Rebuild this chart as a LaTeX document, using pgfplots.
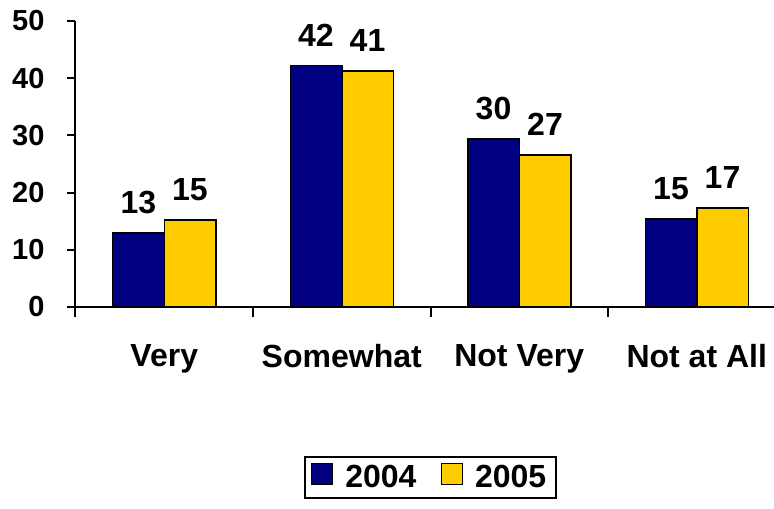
\documentclass[border=0pt]{standalone}
\usepackage{pgfplots}
\pgfplotsset{compat=1.18}
\usepackage{fontspec}
\setmainfont{Liberation Sans}
\definecolor{navybar}{HTML}{000080}
\definecolor{goldbar}{HTML}{FFCC00}
\newcommand{\labelfont}{\fontsize{16}{19}\selectfont\bfseries}
\begin{document}
\begin{tikzpicture}
% the reference is cut off at the right and bottom edges
\useasboundingbox (-37.75pt,-100.5pt) rectangle (349.25pt,153.5pt);
\clip (-37.75pt,-100.5pt) rectangle (349.25pt,153.5pt);
\begin{axis}[
    at={(0pt,0pt)}, anchor=south west,
    scale only axis,
    width=355pt, height=143pt,
    ybar=0pt, bar width=25.75pt,
    xmin=-0.5, xmax=3.5, ymin=0, ymax=50,
    axis x line=bottom, axis y line=left,
    axis line style={-, black, line width=1pt},
    xtick={0,1,2,3},
    xticklabels={Very,Somewhat,Not Very,Not at All},
    minor xtick={-0.5,0.5,1.5,2.5,3.5},
    major x tick style={draw=none},
    ytick={0,10,20,30,40,50},
    tick align=outside,
    major tick length=4pt, minor tick length=5pt,
    tick style={black, line width=1pt},
    /pgf/number format/assume math mode=true,
    yticklabel style={font=\fontsize{14.5}{17}\selectfont\bfseries, xshift=-8pt},
    xticklabel style={font=\labelfont, yshift=-11pt},
    point meta=explicit symbolic,
    nodes near coords,
    every node near coord/.append style={font=\labelfont, yshift=6pt},
    legend columns=2,
    legend style={at={(0.5,-0.521)}, anchor=north, draw=black, line width=1pt,
        font=\labelfont,
        /tikz/every odd column/.append style={column sep=4pt},
        /tikz/every even column/.append style={column sep=10pt}},
    legend image code/.code={\draw[#1, draw=black, line width=0.75pt] (0pt,-3.5pt) rectangle (10.5pt,7pt);},
]
\addplot[fill=navybar, draw=black, line width=0.75pt] coordinates {
    (0,12.9) [13] (1,42.2) [42] (2,29.4) [30] (3,15.4) [15]};
\addplot[fill=goldbar, draw=black, line width=0.75pt] coordinates {
    (0,15.2) [15] (1,41.3) [41] (2,26.6) [27] (3,17.3) [17]};
\legend{2004,2005}
\end{axis}
\end{tikzpicture}
\end{document}
